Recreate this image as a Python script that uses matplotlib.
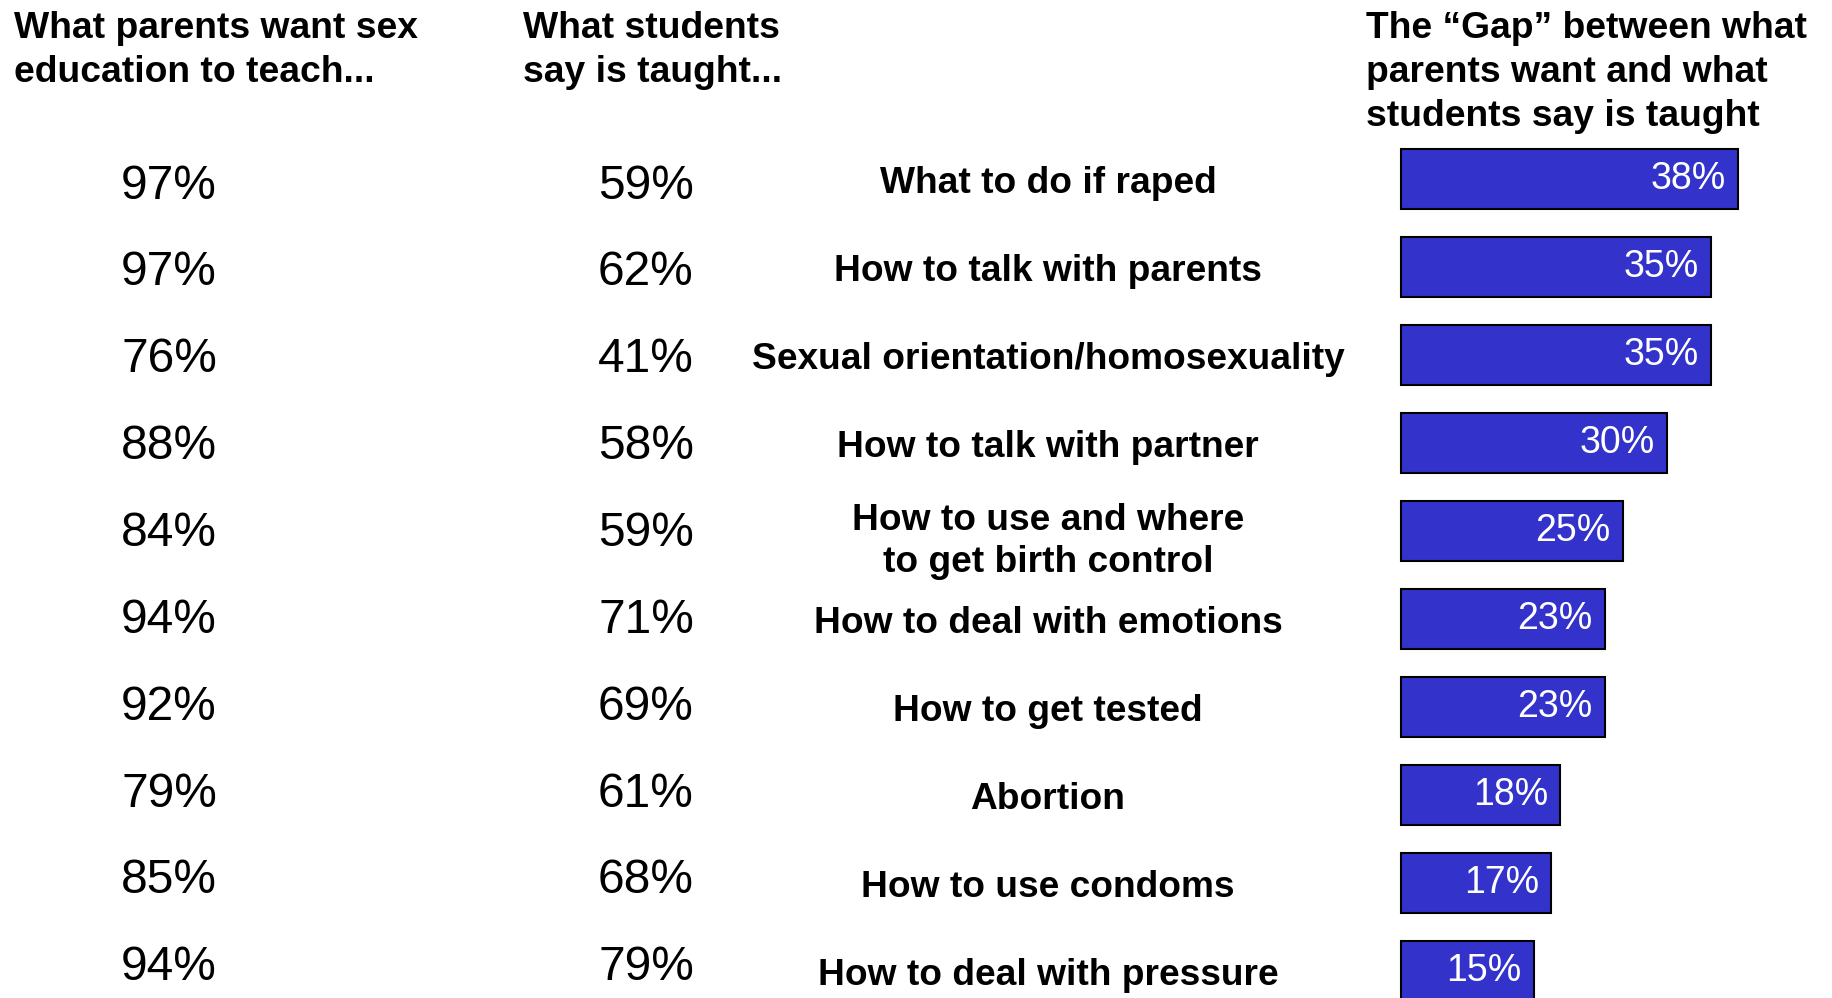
import numpy as np
import matplotlib.pyplot as plt
import matplotlib.transforms as mtransforms

plt.rcParams['font.family'] = ['Liberation Sans', 'DejaVu Sans']

topics = ['What to do if raped', 'How to talk with parents',
          'Sexual orientation/homosexuality', 'How to talk with partner',
          'How to use and where\nto get birth control', 'How to deal with emotions',
          'How to get tested', 'Abortion', 'How to use condoms',
          'How to deal with pressure']
parents_want = [97, 97, 76, 88, 84, 94, 92, 79, 85, 94]
students_say = [59, 62, 41, 58, 59, 71, 69, 61, 68, 79]
gap = [38, 35, 35, 30, 25, 23, 23, 18, 17, 15]

header_parents = 'What parents want sex\neducation to teach...'
header_students = 'What students\nsay is taught...'
header_gap = 'The \u201cGap\u201d between what\nparents want and what\nstudents say is taught'

W, H = 1832, 998
fig = plt.figure(figsize=(W / 100, H / 100), dpi=100)
ax = fig.add_axes([0, 0, 1, 1])

px_per_pct = 8.88
x0 = 1400.5  # pixel where bars start
row0, pitch = 179, 88.0
ax.set_xlim(-x0 / px_per_pct, (W - x0) / px_per_pct)
ax.set_ylim((H - row0) / pitch, -row0 / pitch)
ax.axis('off')

rows = np.arange(len(topics))
ax.barh(rows, gap, height=60 / pitch, left=0, color='#3333CC',
        edgecolor='black', linewidth=1.5)

for i, g in zip(rows, gap):
    ax.text(g - 1.4, i, f'{g}%', ha='right', va='center', color='white',
            fontsize=27)

# the number columns run on a slightly tighter pitch than the bars
num_rows = rows * 0.987 + 0.08

tr = mtransforms.blended_transform_factory(ax.transAxes, ax.transData)
for i in rows:
    ax.text(169 / W, num_rows[i], f'{parents_want[i]}%', transform=tr,
            ha='center', va='center', fontsize=34.5)
    ax.text(646 / W, num_rows[i], f'{students_say[i]}%', transform=tr,
            ha='center', va='center', fontsize=34.5)
    dy = 0.12 if '\n' in topics[i] else 0.05
    ax.text(1048 / W, i + dy, topics[i], transform=tr, ha='center',
            va='center', fontsize=26.7, fontweight='bold', linespacing=1.28)

top = 1 - 11 / H
fig.text(14 / W, top, header_parents, ha='left', va='top', fontsize=26.8,
         fontweight='bold', linespacing=1.34)
fig.text(523 / W, top, header_students, ha='left', va='top', fontsize=26.8,
         fontweight='bold', linespacing=1.34)
fig.text(1366 / W, top, header_gap, ha='left', va='top', fontsize=26.8,
         fontweight='bold', linespacing=1.34)

fig.savefig('out.png', dpi=100)
